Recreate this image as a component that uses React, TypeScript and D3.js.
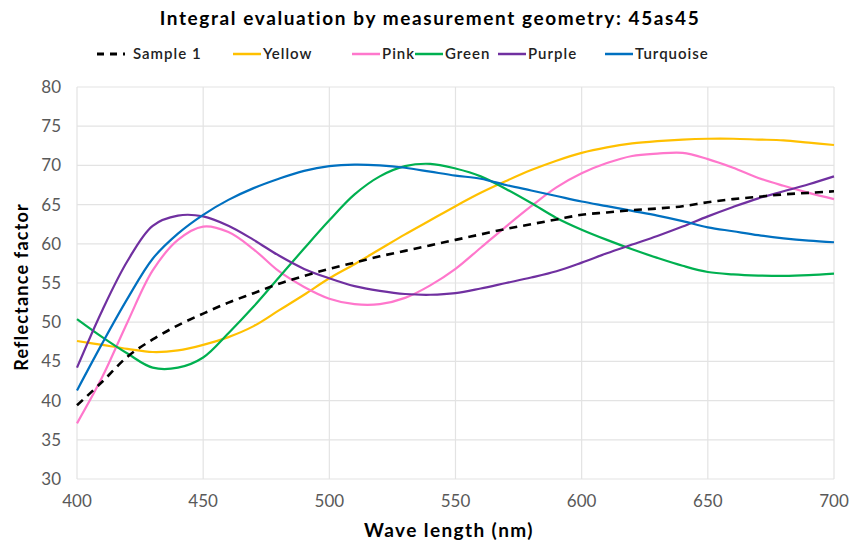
import React, { useEffect, useRef } from 'react';
import * as d3 from 'd3';

const wavelengths = d3.range(400, 701, 10);

const sample1 = [39.4, 42.4, 45.6, 47.8, 49.6, 51.1, 52.5, 53.7, 54.9, 55.9, 56.8, 57.6, 58.4, 59.1, 59.8, 60.5, 61.2, 61.9, 62.5, 63.1, 63.7, 64.0, 64.3, 64.5, 64.8, 65.3, 65.7, 66.0, 66.3, 66.5, 66.7];
const yellow = [47.6, 47.1, 46.6, 46.2, 46.4, 47.1, 48.1, 49.5, 51.5, 53.5, 55.6, 57.4, 59.3, 61.2, 63.0, 64.8, 66.5, 68.0, 69.4, 70.6, 71.6, 72.3, 72.8, 73.1, 73.3, 73.4, 73.4, 73.3, 73.2, 72.9, 72.6];
const pink = [37.1, 43.0, 50.0, 56.6, 60.5, 62.2, 61.5, 59.3, 56.5, 54.5, 53.0, 52.3, 52.3, 53.1, 54.7, 56.8, 59.5, 62.2, 64.8, 67.2, 69.0, 70.3, 71.2, 71.5, 71.6, 70.8, 69.7, 68.4, 67.4, 66.5, 65.7];
const green = [50.4, 48.1, 46.0, 44.2, 44.2, 45.5, 48.6, 52.0, 55.7, 59.4, 63.0, 66.3, 68.6, 69.9, 70.2, 69.6, 68.6, 67.0, 65.2, 63.3, 61.8, 60.5, 59.3, 58.2, 57.2, 56.4, 56.1, 55.95, 55.9, 56.0, 56.2];
const purple = [44.2, 51.5, 57.8, 62.3, 63.6, 63.5, 62.3, 60.5, 58.5, 56.8, 55.6, 54.6, 54.0, 53.6, 53.5, 53.7, 54.3, 55.0, 55.7, 56.5, 57.6, 58.8, 59.9, 61.0, 62.2, 63.5, 64.7, 65.8, 66.7, 67.6, 68.6];
const turquoise = [41.3, 47.3, 53.0, 58.1, 61.3, 63.7, 65.6, 67.1, 68.3, 69.3, 69.9, 70.1, 70.0, 69.7, 69.2, 68.7, 68.3, 67.5, 66.8, 66.1, 65.4, 64.8, 64.2, 63.6, 62.9, 62.1, 61.6, 61.1, 60.7, 60.4, 60.2];

const seriesNames = ['Sample 1', 'Yellow', 'Pink', 'Green', 'Purple', 'Turquoise'];
const seriesValues = [sample1, yellow, pink, green, purple, turquoise];
const seriesColors = ['#000000', '#ffc000', '#ff77cc', '#00b050', '#7030a0', '#0070c0'];

const xTicks = [400, 450, 500, 550, 600, 650, 700];
const yTicks = [30, 35, 40, 45, 50, 55, 60, 65, 70, 75, 80];

const FONT = 'Lato, "Open Sans", sans-serif';

const App = () => {
  const chartRef = useRef(null);

  useEffect(() => {
    const svg = d3.select(chartRef.current);
    svg.selectAll('*').remove();

    const x = d3.scaleLinear().domain([400, 700]).range([77, 834]);
    const y = d3.scaleLinear().domain([30, 80]).range([479, 87]);

    // grid
    const grid = svg.append('g');
    grid.selectAll('.hgrid')
      .data(yTicks)
      .enter()
      .append('line')
      .attr('x1', x(400))
      .attr('x2', x(700))
      .attr('y1', d => y(d))
      .attr('y2', d => y(d))
      .attr('stroke', '#e3e3e3')
      .attr('stroke-width', 1.2);
    grid.selectAll('.vgrid')
      .data(xTicks)
      .enter()
      .append('line')
      .attr('x1', d => x(d))
      .attr('x2', d => x(d))
      .attr('y1', y(30))
      .attr('y2', y(80))
      .attr('stroke', '#e3e3e3')
      .attr('stroke-width', 1.2);

    // tick labels
    svg.append('g')
      .selectAll('text')
      .data(yTicks)
      .enter()
      .append('text')
      .attr('x', 61)
      .attr('y', d => y(d) + 6)
      .attr('text-anchor', 'end')
      .attr('font-family', FONT)
      .attr('font-size', 17)
      .attr('fill', '#595959')
      .text(d => d);

    svg.append('g')
      .selectAll('text')
      .data(xTicks)
      .enter()
      .append('text')
      .attr('x', d => x(d))
      .attr('y', 507)
      .attr('text-anchor', 'middle')
      .attr('font-family', FONT)
      .attr('font-size', 17)
      .attr('fill', '#595959')
      .text(d => d);

    // lines
    const line = d3.line()
      .x((d, i) => x(wavelengths[i]))
      .y(d => y(d))
      .curve(d3.curveCatmullRom.alpha(0.5));

    const order = [1, 2, 3, 4, 5, 0];
    order.forEach(k => {
      svg.append('path')
        .datum(seriesValues[k])
        .attr('d', line)
        .attr('fill', 'none')
        .attr('stroke', seriesColors[k])
        .attr('stroke-width', k === 0 ? 2.6 : 2.2)
        .attr('stroke-dasharray', k === 0 ? '8,6' : null);
    });

    // title
    svg.append('text')
      .attr('x', 430)
      .attr('y', 25)
      .attr('text-anchor', 'middle')
      .attr('font-family', FONT)
      .attr('font-size', 19)
      .attr('font-weight', 'bold')
      .attr('letter-spacing', 1.6)
      .attr('fill', '#000')
      .text('Integral evaluation by measurement geometry: 45as45');

    // legend
    const legendX = [97, 233, 352, 415, 498, 605];
    const legend = svg.append('g');
    seriesNames.forEach((name, i) => {
      const lx = legendX[i];
      legend.append('line')
        .attr('x1', lx)
        .attr('x2', lx + 28)
        .attr('y1', 54)
        .attr('y2', 54)
        .attr('stroke', seriesColors[i])
        .attr('stroke-width', i === 0 ? 3 : 2.5)
        .attr('stroke-dasharray', i === 0 ? '7,6' : null);
      legend.append('text')
        .attr('x', i === 0 ? lx + 36 : lx + 30)
        .attr('y', 59)
        .attr('font-family', FONT)
        .attr('font-size', 15)
        .attr('font-weight', 600)
        .attr('letter-spacing', 1)
        .attr('fill', '#222')
        .text(name);
    });

    // axis titles
    svg.append('text')
      .attr('x', 449)
      .attr('y', 537)
      .attr('text-anchor', 'middle')
      .attr('font-family', FONT)
      .attr('font-size', 19)
      .attr('font-weight', 'bold')
      .attr('letter-spacing', 1.4)
      .attr('fill', '#000')
      .text('Wave length (nm)');

    svg.append('text')
      .attr('transform', `translate(28, ${y(54.5)}) rotate(-90)`)
      .attr('text-anchor', 'middle')
      .attr('font-family', FONT)
      .attr('font-size', 18)
      .attr('font-weight', 'bold')
      .attr('letter-spacing', 1.2)
      .attr('fill', '#000')
      .text('Reflectance factor');
  }, []);

  return (
    <svg
      ref={chartRef}
      width={851}
      height={542}
      style={{ position: 'absolute', left: 0, top: 0, background: '#fff' }}
    ></svg>
  );
};

export default App;
